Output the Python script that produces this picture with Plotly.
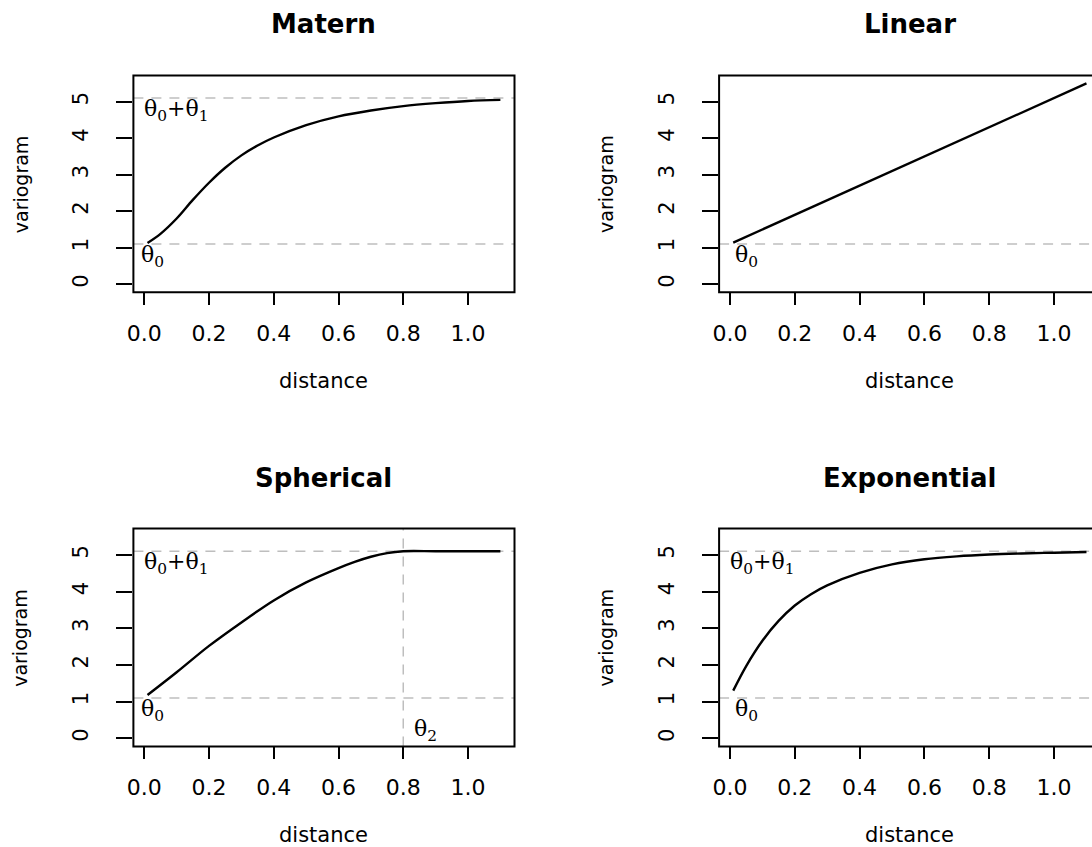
import plotly.graph_objects as go

W, H = 1092, 847

# Fitted variogram curves: distance vs. semivariance
matern_d = [0.01, 0.05, 0.1, 0.15, 0.2, 0.25, 0.3, 0.35, 0.4, 0.5, 0.6, 0.7, 0.8, 0.9, 1.0, 1.1]
matern_v = [1.13, 1.38, 1.80, 2.31, 2.78, 3.19, 3.53, 3.80, 4.02, 4.36, 4.60, 4.76, 4.88, 4.96, 5.02, 5.05]

linear_d = [0.01, 1.1]
linear_v = [1.14, 5.50]

spherical_d = [0.01, 0.1, 0.2, 0.3, 0.4, 0.5, 0.6, 0.65, 0.7, 0.75, 0.8, 0.9, 1.0, 1.1]
spherical_v = [1.18, 1.80, 2.52, 3.16, 3.76, 4.25, 4.64, 4.81, 4.95, 5.05, 5.10, 5.10, 5.10, 5.10]

exponential_d = [0.01, 0.05, 0.1, 0.15, 0.2, 0.25, 0.3, 0.4, 0.5, 0.6, 0.7, 0.8, 0.9, 1.0, 1.1]
exponential_v = [1.30, 1.97, 2.66, 3.20, 3.62, 3.93, 4.17, 4.51, 4.74, 4.88, 4.96, 5.01, 5.04, 5.06, 5.08]

nugget = 1.1      # theta0
sill = 5.1        # theta0 + theta1
sph_range = 0.8   # theta2

panel_titles = ["Matern", "Linear", "Spherical", "Exponential"]
x_ticks = [0.0, 0.2, 0.4, 0.6, 0.8, 1.0]
x_tick_labels = ["0.0", "0.2", "0.4", "0.6", "0.8", "1.0"]
y_ticks = [0, 1, 2, 3, 4, 5]
y_tick_labels = ["0", "1", "2", "3", "4", "5"]

# panel boxes in pixels (left, right, top, bottom); right column runs past the page edge
boxes = [
    (133.4, 514.5, 75.4, 292.3),
    (719.1, 1100.6, 75.4, 292.3),
    (133.4, 514.5, 528.5, 746.4),
    (719.1, 1100.6, 528.5, 746.4),
]
XR = (-0.0336, 1.1436)
YR = (-0.22, 5.72)

SANS = "DejaVu Sans"
SERIF = "DejaVu Serif"


def px(x):
    return x / W


def py(y):
    return 1 - y / H


fig = go.Figure()
layout = dict(
    width=W, height=H, autosize=False,
    margin=dict(l=0, r=0, t=0, b=0, pad=0, autoexpand=False),
    paper_bgcolor="white", plot_bgcolor="white",
    showlegend=False,
)
shapes = []
annotations = []

curves = [
    (matern_d, matern_v),
    (linear_d, linear_v),
    (spherical_d, spherical_v),
    (exponential_d, exponential_v),
]

for i, ((l, r, t, b), title, (dx, dv)) in enumerate(zip(boxes, panel_titles, curves)):
    n = "" if i == 0 else str(i + 1)
    xa, ya = "x" + n, "y" + n
    r_vis = min(r, W)
    x_hi = XR[0] + (r_vis - l) / (r - l) * (XR[1] - XR[0])

    layout["xaxis" + n] = dict(
        domain=[px(l), px(r_vis)], range=[XR[0], x_hi], anchor=ya,
        automargin=False,
        tickmode="array", tickvals=x_ticks, ticktext=x_tick_labels,
        ticks="outside", ticklen=12, tickwidth=2, tickcolor="black",
        showline=False, showgrid=False, zeroline=False,
        ticklabelstandoff=9,
        tickfont=dict(family=SANS, size=22, color="black"),
    )
    layout["yaxis" + n] = dict(
        domain=[py(b), py(t)], range=list(YR), anchor=xa,
        automargin=False,
        tickmode="array", tickvals=y_ticks, ticktext=y_tick_labels,
        ticks="outside", ticklen=16, tickwidth=2, tickcolor="black",
        tickangle=-90,
        showline=False, showgrid=False, zeroline=False,
        ticklabelstandoff=20,
        tickfont=dict(family=SANS, size=21, color="black"),
    )

    # reference lines: nugget, sill, range
    hlines = [nugget] if title == "Linear" else [nugget, sill]
    for hv in hlines:
        shapes.append(dict(type="line", xref=xa + " domain", yref=ya,
                           x0=0, x1=1, y0=hv, y1=hv,
                           line=dict(color="#BEBEBE", width=1.5, dash="10px,8px"),
                           layer="below"))
    if title == "Spherical":
        shapes.append(dict(type="line", xref=xa, yref=ya + " domain",
                           x0=sph_range, x1=sph_range, y0=0, y1=1,
                           line=dict(color="#BEBEBE", width=1.5, dash="10px,8px"),
                           layer="below"))

    fig.add_trace(go.Scatter(
        x=dx, y=dv, xaxis=xa, yaxis=ya, mode="lines",
        line=dict(color="black", width=2.4, shape="spline", smoothing=1.0),
        hoverinfo="skip",
    ))

    # plot frame
    shapes.append(dict(type="rect", xref="paper", yref="paper",
                       x0=px(l), x1=px(r), y0=py(b), y1=py(t),
                       line=dict(color="black", width=2), layer="above"))

    cx = (l + r) / 2
    annotations.append(dict(
        text="<b>%s</b>" % title, xref="paper", yref="paper",
        x=px(cx), y=py(t - 51), xanchor="center", yanchor="middle",
        showarrow=False, font=dict(family=SANS, size=26, color="black")))
    annotations.append(dict(
        text="distance", xref="paper", yref="paper",
        x=px(cx), y=py(b + 89), xanchor="center", yanchor="middle",
        showarrow=False, font=dict(family=SANS, size=21, color="black")))
    annotations.append(dict(
        text="variogram", xref="paper", yref="paper",
        x=px(l - 113), y=py((t + b) / 2), xanchor="center", yanchor="middle",
        textangle=-90,
        showarrow=False, font=dict(family=SANS, size=19, color="black")))

    # parameter labels
    th = dict(xref=xa, yref=ya, showarrow=False, xanchor="left", yanchor="middle",
              font=dict(family=SERIF, size=22, color="black"))
    if title != "Linear":
        annotations.append(dict(th, text="θ<sub>0</sub>+θ<sub>1</sub>",
                                x=-0.006, y=4.76))
    x0_lab = 0.010 if title in ("Linear", "Exponential") else -0.017
    annotations.append(dict(th, text="θ<sub>0</sub>", x=x0_lab, y=0.76))
    if title == "Spherical":
        annotations.append(dict(th, text="θ<sub>2</sub>", x=0.826, y=0.2))

layout["shapes"] = shapes
layout["annotations"] = annotations
fig.update_layout(**layout)

fig.write_html("out.html", include_plotlyjs=True, full_html=True,
               config={"displayModeBar": False})
